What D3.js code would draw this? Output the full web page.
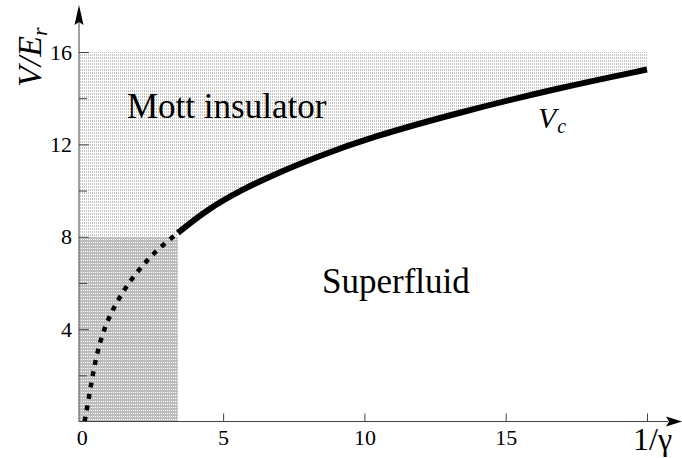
<!DOCTYPE html>
<html><head><meta charset="utf-8">
<script src="https://cdn.jsdelivr.net/npm/d3@7"></script>
<style>body{margin:0;background:#fff}svg{display:block}</style>
</head><body>
<script>
// ---- data ----
const xTicks = [0, 5, 10, 15, 20];
const xTickLabels = ["0", "5", "10", "15", ""];
const yMajorTicks = [4, 8, 12, 16];
const yMinorTicks = [2, 6, 10, 14];
// critical line V_c (solid part, 1/gamma vs V/Er)
const solidX = [3.40, 4.4, 5.6, 6.9, 8.3, 10.2, 13.4, 16.9, 20.0];
const solidV = [8.17, 9.15, 10.0, 10.75, 11.45, 12.3, 13.4, 14.45, 15.24];
// dashed continuation
const dashX = [0.10, 0.28, 0.42, 0.61, 0.87, 1.26, 1.72, 2.28, 2.87, 3.40];
const dashV = [0.0, 1.25, 2.26, 3.32, 4.28, 5.24, 6.11, 6.96, 7.65, 8.17];
// shaded regions
const mottTop = 16;
const darkBox = {x: 3.4, v: 8};

(function(){
const W = 682, H = 458;
const svg = d3.select("body").append("svg").attr("width", W).attr("height", H);
const x = d3.scaleLinear().domain([-0.1, 20]).range([79, 647]);
const y = d3.scaleLinear().domain([0, 16]).range([421.5, 52]);
const x0 = -0.1;

const defs = svg.append("defs");
const pl = defs.append("pattern").attr("id","light").attr("width",2).attr("height",3).attr("patternUnits","userSpaceOnUse");
pl.append("rect").attr("width",2).attr("height",3).attr("fill","#fff");
pl.append("rect").attr("width",1).attr("height",2).attr("fill","#c4c4c4");
const pd = defs.append("pattern").attr("id","dark").attr("width",2).attr("height",3).attr("patternUnits","userSpaceOnUse");
pd.append("rect").attr("width",2).attr("height",3).attr("fill","#bdbdbd");
pd.append("rect").attr("x",1).attr("y",2).attr("width",1).attr("height",1).attr("fill","#fff");

const solid = solidX.map((d,i)=>[d, solidV[i]]);
const dashed = dashX.map((d,i)=>[d, dashV[i]]);

const line = d3.line().x(d=>x(d[0])).y(d=>y(d[1])).curve(d3.curveBasis);

// Mott (light) region
const upper = d3.line().x(d=>x(d[0])).y(d=>y(d[1]))([[x0, darkBox.v],[x0, mottTop],[20, mottTop]]);
const back = line(solid.slice().reverse()).replace(/^M/, "L");
svg.append("path")
  .attr("d", upper + back + `L${x(darkBox.x)},${y(darkBox.v)}Z`)
  .attr("fill", "url(#light)").attr("shape-rendering","crispEdges");
// dark region
svg.append("rect")
  .attr("x", x(x0)).attr("y", y(darkBox.v))
  .attr("width", x(darkBox.x) - x(x0)).attr("height", y(0) - y(darkBox.v))
  .attr("fill", "url(#dark)").attr("shape-rendering","crispEdges");

svg.append("path").attr("d", line(solid)).attr("fill","none")
  .attr("stroke","#000").attr("stroke-width",6);
svg.append("path").attr("d", line(dashed)).attr("fill","none")
  .attr("stroke","#000").attr("stroke-width",4.5).attr("stroke-dasharray","5,6.5");

// axes
const serif = "'Times New Roman','Liberation Serif',Times,serif";
const gx = svg.append("g").attr("transform", `translate(0,${y(0)})`)
  .call(d3.axisBottom(x).tickValues(xTicks).tickSize(-8).tickPadding(8)
    .tickFormat((d,i)=>xTickLabels[i]));
gx.select(".domain").remove();
gx.selectAll(".tick").filter(d=>d===0).select("line").remove();
gx.selectAll("text").attr("font-family", serif).attr("font-size", 22).attr("fill","#000");
gx.selectAll("line").attr("stroke","#444");

const gy = svg.append("g").attr("transform", `translate(${x(x0)},0)`)
  .call(d3.axisLeft(y).tickValues(yMajorTicks).tickSize(-10).tickPadding(7));
gy.select(".domain").remove();
gy.selectAll("text").attr("font-family", serif).attr("font-size", 22).attr("fill","#000");
gy.selectAll("line").attr("stroke","#444");
const gy2 = svg.append("g").attr("transform", `translate(${x(x0)},0)`)
  .call(d3.axisLeft(y).tickValues(yMinorTicks).tickSize(-8).tickFormat(""));
gy2.select(".domain").remove();
gy2.selectAll("line").attr("stroke","#444");

// axis lines with arrows
svg.append("line").attr("x1", x(x0)).attr("x2", 668).attr("y1", y(0)).attr("y2", y(0))
  .attr("stroke","#444").attr("stroke-width",1);
svg.append("path").attr("d", `M666,${y(0)-5} L682,${y(0)} L666,${y(0)+5} L669,${y(0)} Z`).attr("fill","#000");
svg.append("line").attr("x1", x(x0)).attr("x2", x(x0)).attr("y1", y(0)).attr("y2", 22)
  .attr("stroke","#444").attr("stroke-width",1);
svg.append("path").attr("d", `M${x(x0)-4.5},25 L${x(x0)},5 L${x(x0)+4.5},25 L${x(x0)},22 Z`).attr("fill","#000");

// labels
svg.append("text").attr("x", 127).attr("y", 118).attr("font-family", serif)
  .attr("font-size", 35).text("Mott insulator");
svg.append("text").attr("x", 322).attr("y", 293).attr("font-family", serif)
  .attr("font-size", 35).text("Superfluid");
const vc = svg.append("text").attr("x", 538).attr("y", 128).attr("font-family", serif)
  .attr("font-size", 30).attr("font-style","italic");
vc.append("tspan").text("V");
vc.append("tspan").attr("font-size", 20).attr("dy", 5).attr("dx", 1).text("c");

svg.append("text").attr("x", 633).attr("y", 450).attr("font-family", serif)
  .attr("font-size", 32).text("1/γ");

const yl = svg.append("text").attr("transform","translate(41,87) rotate(-90)")
  .attr("font-family", serif).attr("font-size", 34).attr("font-style","italic");
yl.append("tspan").text("V/E");
yl.append("tspan").attr("font-size", 22).attr("dy", 6).text("r");
})();
</script>
</body></html>
